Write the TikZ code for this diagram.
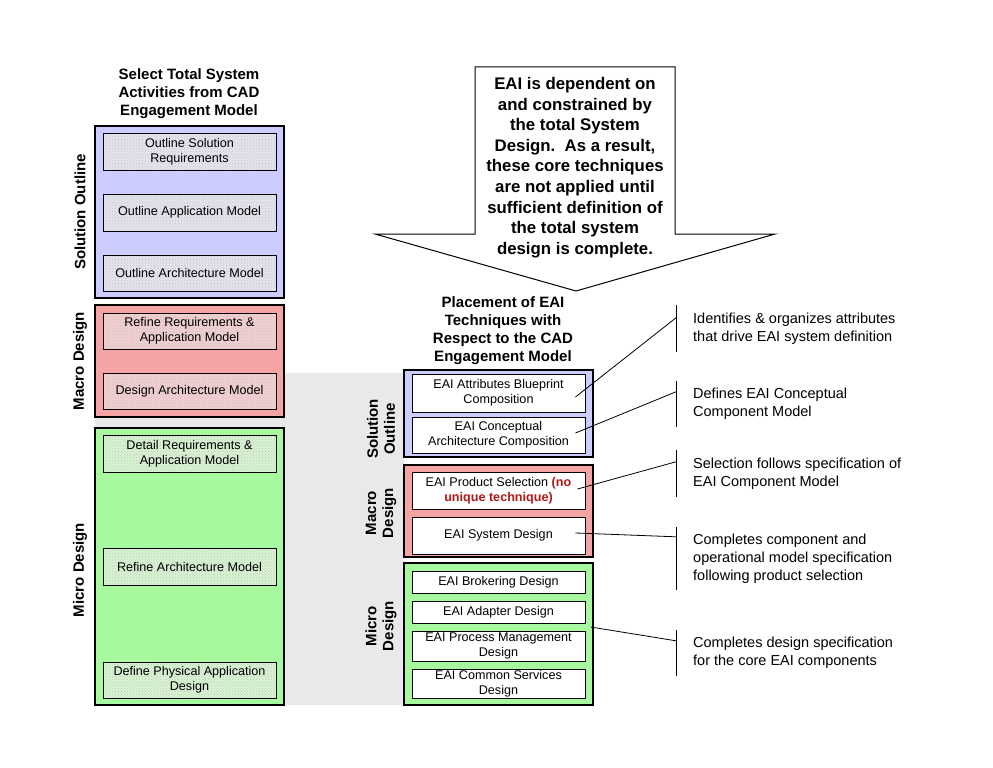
\documentclass[tikz,border=0pt]{standalone}
\usepackage{fontspec}
\setmainfont{Liberation Sans}
\usetikzlibrary{calc,patterns}
\definecolor{phaseblue}{HTML}{CCCCFF}
\definecolor{phasered}{HTML}{F4A4A4}
\definecolor{phasegreen}{HTML}{A8F8A0}
\definecolor{stepblue}{HTML}{E4E4F0}
\definecolor{stepred}{HTML}{F4CECE}
\definecolor{stepgreen}{HTML}{D6F4D0}
\definecolor{backgray}{HTML}{EAE8EA}
\definecolor{warnred}{HTML}{B01818}
\definecolor{dither}{HTML}{C4C4C4}
\begin{document}
\begin{tikzpicture}[x=1pt,y=-1pt,
  phase/.style={draw=black, line width=1.2pt, inner sep=0pt},
  stepbox/.style={draw=black, line width=0.9pt, inner sep=0pt, minimum width=173pt,
    align=center, font=\fontsize{12.6}{15}\selectfont},
  shaded/.style={preaction={fill=#1}, pattern=crosshatch dots, pattern color=dither},
  title/.style={align=center, font=\bfseries\fontsize{15}{18}\selectfont},
  sidelabel/.style={rotate=90, align=center, font=\bfseries\fontsize{15}{17}\selectfont},
  note/.style={anchor=west, align=left, inner xsep=17pt, inner ysep=0pt,
    font=\fontsize{14.5}{18}\selectfont},
  link/.style={line width=0.8pt}
]
\useasboundingbox (0,0) rectangle (993,768);
\fill[white] (0,0) rectangle (993,768);

% shaded band behind the phase columns
\fill[backgray] (95,373) rectangle (404,705);

% ---------- left column: total system activities ----------
\node[title] (ltitle) at (189,94) {Select Total System\\Activities from CAD\\Engagement Model};

\node[phase, fill=phaseblue, minimum width=189pt, minimum height=172pt] (lso) at (189.5,212) {};
\node[stepbox, shaded=stepblue, minimum height=37pt] (l1) at (189.5,151.5) {Outline Solution\\Requirements};
\node[stepbox, shaded=stepblue, minimum height=37pt] (l2) at (189.5,212.5) {Outline Application Model};
\node[stepbox, shaded=stepblue, minimum height=36pt] (l3) at (189.5,273) {Outline Architecture Model};

\node[phase, fill=phasered, minimum width=189pt, minimum height=112pt] (lma) at (189.5,361) {};
\node[stepbox, shaded=stepred, minimum height=36pt] (l4) at (189.5,331) {Refine Requirements \&\\Application Model};
\node[stepbox, shaded=stepred, minimum height=36pt] (l5) at (189.5,391) {Design Architecture Model};

\node[phase, fill=phasegreen, minimum width=189pt, minimum height=277pt] (lmi) at (189.5,566.5) {};
\node[stepbox, shaded=stepgreen, minimum height=37pt] (l6) at (189.5,453.5) {Detail Requirements \&\\Application Model};
\node[stepbox, shaded=stepgreen, minimum height=37pt] (l7) at (189.5,566.5) {Refine Architecture Model};
\node[stepbox, shaded=stepgreen, minimum height=36pt] (l8) at (189.5,680) {Define Physical Application\\Design};

\node[sidelabel] (lsol) at (80,212) {Solution Outline};
\node[sidelabel] (lmac) at (80,361) {Macro Design};
\node[sidelabel] (lmic) at (80,570) {Micro Design};

% ---------- callout arrow ----------
\draw[line width=1pt, fill=white] (475,67) -- (675,67) -- (675,234) -- (775,234)
  -- (576,291) -- (375,234) -- (475,234) -- cycle;
\node[align=center, font=\bfseries\fontsize{16.8}{20.6}\selectfont] (callout) at (575,167.5)
  {EAI is dependent on\\and constrained by\\the total System\\Design.\ \ As a result,\\these core techniques\\are not applied until\\sufficient definition of\\the total system\\design is complete.};

% ---------- right column: EAI techniques ----------
\node[title] (rtitle) at (503,331) {Placement of EAI\\Techniques with\\Respect to the CAD\\Engagement Model};

\node[phase, fill=phaseblue, minimum width=189pt, minimum height=87pt] (rso) at (498.5,413.5) {};
\node[stepbox, fill=white, minimum height=38pt] (r1) at (498.5,393) {EAI Attributes Blueprint\\Composition};
\node[stepbox, fill=white, minimum height=36pt] (r2) at (498.5,435) {EAI Conceptual\\Architecture Composition};

\node[phase, fill=phasered, minimum width=189pt, minimum height=92pt] (rma) at (498.5,511) {};
\node[stepbox, fill=white, minimum height=37pt] (r3) at (498.5,490.5)
  {EAI Product Selection \textcolor{warnred}{\bfseries(no}\\\textcolor{warnred}{\bfseries unique technique)}};
\node[stepbox, fill=white, minimum height=37pt] (r4) at (498.5,535.5) {EAI System Design};

\node[phase, fill=phasegreen, minimum width=189pt, minimum height=142pt] (rmi) at (498.5,634) {};
\node[stepbox, fill=white, minimum height=22pt] (r5) at (498.5,582) {EAI Brokering Design};
\node[stepbox, fill=white, minimum height=22pt] (r6) at (498.5,612) {EAI Adapter Design};
\node[stepbox, fill=white, minimum height=30pt] (r7) at (498.5,646) {EAI Process Management\\Design};
\node[stepbox, fill=white, minimum height=29pt] (r8) at (498.5,683.5) {EAI Common Services\\Design};

\node[sidelabel] (rsol) at (381,429) {Solution\\Outline};
\node[sidelabel] (rmac) at (381,513) {Macro\\Design};
\node[sidelabel] (rmic) at (381,626) {Micro\\Design};

% ---------- annotations ----------
\node[note, minimum height=47pt] (n1) at (676,328.5) {Identifies \& organizes attributes\\that drive EAI system definition};
\node[note, minimum height=46pt] (n2) at (676,404) {Defines EAI Conceptual\\Component Model};
\node[note, minimum height=47pt] (n3) at (676,473.5) {Selection follows specification of\\EAI Component Model};
\node[note, minimum height=63pt] (n4) at (676,558.5) {Completes component and\\operational model specification\\following product selection};
\node[note, minimum height=46pt] (n5) at (676,653) {Completes design specification\\for the core EAI components};

\foreach \n in {n1,n2,n3,n4,n5}
  \draw[link] (\n.north west) -- (\n.south west);

\coordinate (s1) at ($(r1.east)+(-10,4)$);
\coordinate (s2) at ($(r2.east)+(-10,-2)$);
\coordinate (s3) at ($(r3.east)+(-8,-1.5)$);
\coordinate (s4) at ($(r4.east)+(-10,-2.5)$);
\coordinate (s5) at ($(rmi.east)+(-3,-7)$);

\draw[link] (s1) -- ($(n1.north west)+(0,13)$);
\draw[link] (s2) -- ($(n2.north west)+(0,11)$);
\draw[link] (s3) -- ($(n3.north west)+(0,12)$);
\draw[link] (s4) -- ($(n4.north west)+(0,10)$);
\draw[link] (s5) -- ($(n5.north west)+(0,11)$);
\end{tikzpicture}
\end{document}
